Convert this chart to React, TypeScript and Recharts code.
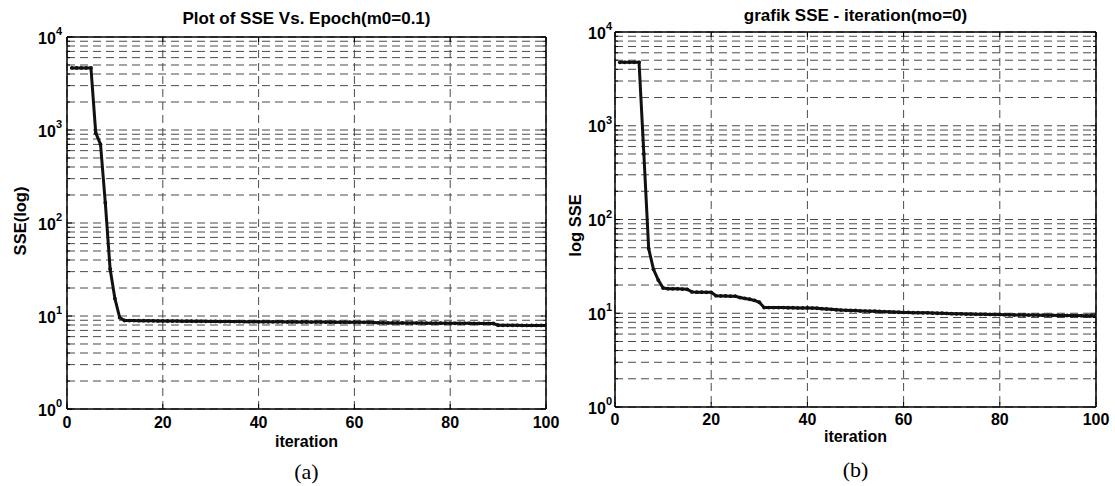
import React from 'react';
import { LineChart, Line, XAxis, YAxis, CartesianGrid, Label } from 'recharts';

const ITERATIONS = [
  1, 2, 3, 4, 5, 6, 7, 8, 9, 10,
  11, 12, 13, 14, 15, 16, 17, 18, 19, 20,
  21, 22, 23, 24, 25, 26, 27, 28, 29, 30,
  31, 32, 33, 34, 35, 36, 37, 38, 39, 40,
  41, 42, 43, 44, 45, 46, 47, 48, 49, 50,
  51, 52, 53, 54, 55, 56, 57, 58, 59, 60,
  61, 62, 63, 64, 65, 66, 67, 68, 69, 70,
  71, 72, 73, 74, 75, 76, 77, 78, 79, 80,
  81, 82, 83, 84, 85, 86, 87, 88, 89, 90,
  91, 92, 93, 94, 95, 96, 97, 98, 99, 100,
];

// (a) momentum m0 = 0.1
const SSE_A = [
  4650, 4650, 4650, 4650, 4650, 930, 700, 165, 32, 15.4,
  9.6, 8.95, 8.93, 8.92, 8.9, 8.9, 8.88, 8.87, 8.86, 8.85,
  8.84, 8.83, 8.82, 8.8, 8.8, 8.79, 8.78, 8.77, 8.76, 8.75,
  8.74, 8.73, 8.72, 8.72, 8.71, 8.7, 8.7, 8.69, 8.68, 8.68,
  8.67, 8.66, 8.66, 8.65, 8.65, 8.64, 8.64, 8.63, 8.62, 8.62,
  8.61, 8.61, 8.6, 8.6, 8.59, 8.59, 8.58, 8.58, 8.57, 8.57,
  8.56, 8.56, 8.55, 8.5, 8.45, 8.44, 8.43, 8.42, 8.42, 8.41,
  8.4, 8.4, 8.39, 8.39, 8.38, 8.38, 8.37, 8.37, 8.36, 8.36,
  8.35, 8.35, 8.34, 8.34, 8.33, 8.33, 8.32, 8.32, 8.31, 7.95,
  7.94, 7.94, 7.93, 7.93, 7.92, 7.92, 7.92, 7.91, 7.91, 7.9,
];

// (b) momentum mo = 0
const SSE_B = [
  4750, 4750, 4750, 4750, 4750, 500, 49, 29.4, 22.6, 18.6,
  18.3, 18.2, 18.2, 18.1, 18.0, 16.9, 16.8, 16.8, 16.7, 16.7,
  15.4, 15.3, 15.3, 15.2, 15.2, 14.7, 14.4, 14.1, 13.7, 13.1,
  11.5, 11.5, 11.5, 11.5, 11.5, 11.45, 11.45, 11.4, 11.4, 11.4,
  11.35, 11.3, 11.2, 11.1, 11.0, 10.9, 10.8, 10.75, 10.7, 10.7,
  10.6, 10.55, 10.5, 10.5, 10.45, 10.4, 10.35, 10.3, 10.25, 10.2,
  10.2, 10.15, 10.15, 10.1, 10.1, 10.05, 10.0, 10.0, 9.95, 9.9,
  9.85, 9.85, 9.8, 9.8, 9.78, 9.75, 9.75, 9.72, 9.7, 9.7,
  9.65, 9.62, 9.6, 9.6, 9.58, 9.56, 9.55, 9.55, 9.52, 9.5,
  9.5, 9.48, 9.47, 9.46, 9.45, 9.44, 9.43, 9.42, 9.41, 9.4,
];

const X_TICKS = [0, 20, 40, 60, 80, 100];
const MAJOR_TICKS = [1, 10, 100, 1000, 10000];
const MAJOR_EXPONENTS = ['0', '1', '2', '3', '4'];
const Y_TICKS = [
  1, 2, 3, 4, 5, 6, 7, 8, 9,
  10, 20, 30, 40, 50, 60, 70, 80, 90,
  100, 200, 300, 400, 500, 600, 700, 800, 900,
  1000, 2000, 3000, 4000, 5000, 6000, 7000, 8000, 9000,
  10000,
];

const FONT = '"Liberation Sans", Arial, Helvetica, sans-serif';
const SERIF = '"Liberation Serif", "Times New Roman", serif';

function YTick(props: any) {
  const { x, y, payload, side, labelGap } = props;
  const v = payload.value;
  const mi = MAJOR_TICKS.indexOf(v);
  const major = mi >= 0;
  const len = major ? 5 : 3;
  const dir = side === 'left' ? 1 : -1;
  return (
    <g>
      <line x1={x} y1={y} x2={x + dir * len} y2={y} stroke="#000" strokeWidth={1} />
      {side === 'left' && major && (
        <text x={x - labelGap} y={y + 6.5} textAnchor="end" fontFamily={FONT} fontWeight="bold" fontSize={16} fill="#000">
          10
          <tspan dy={-8.5} fontSize={11}>{MAJOR_EXPONENTS[mi]}</tspan>
        </text>
      )}
    </g>
  );
}

function XTick(props: any) {
  const { x, y, payload, side, labelDy } = props;
  const dir = side === 'bottom' ? -1 : 1;
  return (
    <g>
      <line x1={x} y1={y} x2={x} y2={y + dir * 5} stroke="#000" strokeWidth={1} />
      {side === 'bottom' && (
        <text x={x} y={y + labelDy} textAnchor="middle" fontFamily={FONT} fontWeight="bold" fontSize={16} fill="#000">
          {payload.value}
        </text>
      )}
    </g>
  );
}

type PanelProps = {
  values: number[];
  title: string;
  yLabel: string;
  caption: string;
  width: number;
  leftW: number;
  rightW: number;
  topH: number;
  bottomH: number;
  titleBaseline: number;
  yLabelX: number;
  yLabelDy: number;
  tickGap: number;
  xLabelDy: number;
  iterDy: number;
  captionDy: number;
};

function Panel(p: PanelProps) {
  const data = ITERATIONS.map((it, i) => ({ iter: it, sse: p.values[i] }));
  const axisLine = { stroke: '#000', strokeWidth: 1.5 };
  return (
    <LineChart width={p.width} height={486} data={data} margin={{ top: 0, right: 0, bottom: 0, left: 0 }}>
      <CartesianGrid stroke="#4a4a4a" strokeDasharray="8 5" strokeWidth={1} />
      <XAxis
        dataKey="iter"
        type="number"
        domain={[0, 100]}
        allowDataOverflow
        ticks={X_TICKS}
        interval={0}
        height={p.bottomH}
        tickSize={0}
        tickMargin={0}
        tickLine={false}
        axisLine={axisLine}
        tick={(tp: any) => <XTick {...tp} side="bottom" labelDy={p.xLabelDy} />}
      >
        <Label
          content={(lp: any) => {
            const vb = lp.viewBox || {};
            const cx = vb.x + vb.width / 2;
            return (
              <g>
                <text x={cx} y={vb.y + p.iterDy} textAnchor="middle" fontFamily={FONT} fontWeight="bold" fontSize={16} fill="#000">
                  iteration
                </text>
                <text x={cx} y={vb.y + p.captionDy} textAnchor="middle" fontFamily={SERIF} fontSize={22} fill="#000">
                  {p.caption}
                </text>
              </g>
            );
          }}
        />
      </XAxis>
      <XAxis
        xAxisId="top"
        orientation="top"
        dataKey="iter"
        type="number"
        domain={[0, 100]}
        allowDataOverflow
        ticks={X_TICKS}
        interval={0}
        height={p.topH}
        tickSize={0}
        tickMargin={0}
        tickLine={false}
        axisLine={axisLine}
        tick={(tp: any) => <XTick {...tp} side="top" labelDy={0} />}
      >
        <Label
          content={(lp: any) => {
            const vb = lp.viewBox || {};
            return (
              <text x={vb.x + vb.width / 2} y={p.titleBaseline} textAnchor="middle" fontFamily={FONT} fontWeight="bold" fontSize={17} fill="#000">
                {p.title}
              </text>
            );
          }}
        />
      </XAxis>
      <YAxis
        scale="log"
        type="number"
        domain={[1, 10000]}
        allowDataOverflow
        ticks={Y_TICKS}
        interval={0}
        width={p.leftW}
        tickSize={0}
        tickMargin={0}
        tickLine={false}
        axisLine={axisLine}
        tick={(tp: any) => <YTick {...tp} side="left" labelGap={p.tickGap} />}
      >
        <Label
          content={(lp: any) => {
            const vb = lp.viewBox || {};
            const cy = vb.y + vb.height / 2 + p.yLabelDy;
            return (
              <text
                x={p.yLabelX}
                y={cy}
                transform={`rotate(-90 ${p.yLabelX} ${cy})`}
                textAnchor="middle"
                fontFamily={FONT}
                fontWeight="bold"
                fontSize={16.5}
                fill="#000"
              >
                {p.yLabel}
              </text>
            );
          }}
        />
      </YAxis>
      <YAxis
        yAxisId="right"
        orientation="right"
        scale="log"
        type="number"
        domain={[1, 10000]}
        allowDataOverflow
        ticks={Y_TICKS}
        interval={0}
        width={p.rightW}
        tickSize={0}
        tickMargin={0}
        tickLine={false}
        axisLine={axisLine}
        tick={(tp: any) => <YTick {...tp} side="right" labelGap={0} />}
      />
      <Line
        type="linear"
        dataKey="sse"
        stroke="#111"
        strokeWidth={3}
        dot={{ r: 1.9, fill: '#111', stroke: '#111', strokeWidth: 0 }}
        activeDot={false}
        isAnimationActive={false}
      />
    </LineChart>
  );
}

export default function App() {
  return (
    <div style={{ position: 'absolute', left: 0, top: 0, width: 1115, height: 486, background: '#fff', overflow: 'hidden' }}>
      <div style={{ position: 'absolute', left: 0, top: 0 }}>
        <Panel
          values={SSE_A}
          title="Plot of SSE Vs. Epoch(m0=0.1)"
          yLabel="SSE(log)"
          caption="(a)"
          width={560}
          leftW={67}
          rightW={14}
          topH={37}
          bottomH={77}
          titleBaseline={24}
          yLabelX={25.5}
          yLabelDy={-2}
          tickGap={5}
          xLabelDy={19}
          iterDy={37.5}
          captionDy={70}
        />
      </div>
      <div style={{ position: 'absolute', left: 560, top: 0 }}>
        <Panel
          values={SSE_B}
          title="grafik SSE - iteration(mo=0)"
          yLabel="log SSE"
          caption="(b)"
          width={555}
          leftW={55}
          rightW={19}
          topH={32}
          bottomH={79}
          titleBaseline={21}
          yLabelX={20.5}
          yLabelDy={6}
          tickGap={3}
          xLabelDy={17.5}
          iterDy={35}
          captionDy={70}
        />
      </div>
    </div>
  );
}
